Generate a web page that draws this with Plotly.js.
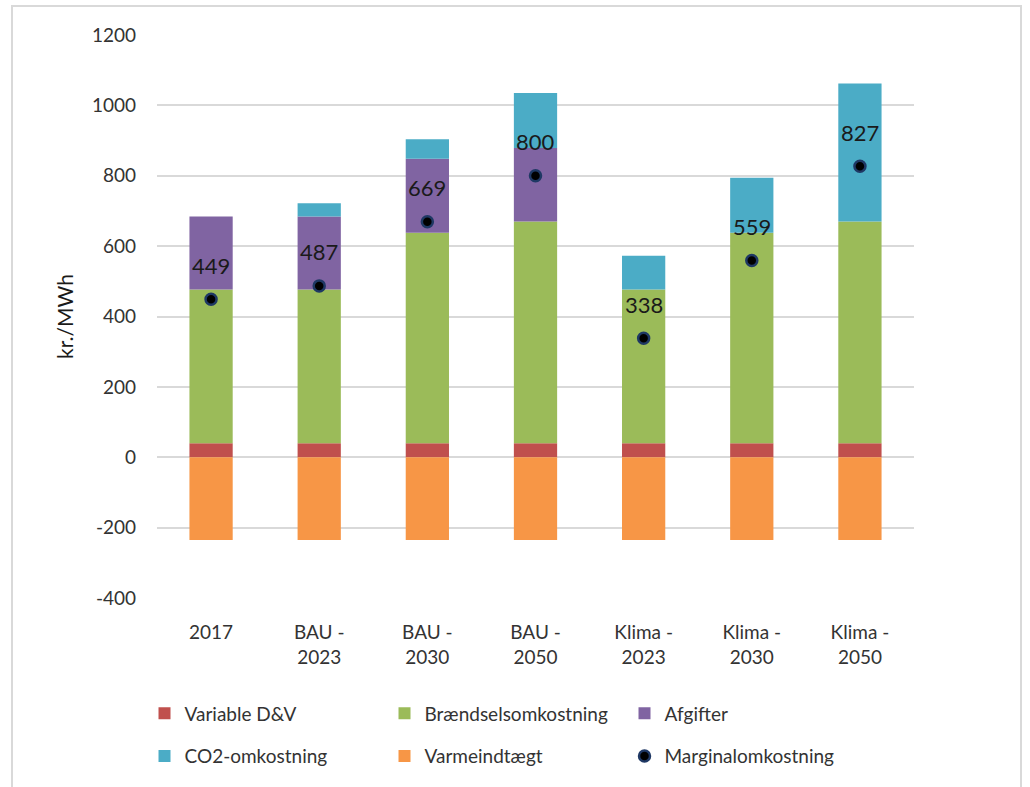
<!DOCTYPE html>
<html>
<head>
<meta charset="utf-8">
<script src="https://cdn.plot.ly/plotly-3.0.1.min.js"></script>
<style>
  html, body { margin: 0; padding: 0; background: #fff; overflow: hidden; }
  #chart { width: 1030px; height: 787px; position: absolute; left: 0; top: 0; }
  #frame { position: absolute; left: 11px; top: 5px; width: 1007px; height: 800px;
           border: 2px solid #d9d9d9; pointer-events: none; }
</style>
</head>
<body>
<div id="chart"></div>
<div id="frame"></div>
<script>
// ---- data ----
var categories = ['2017', 'BAU -<br>2023', 'BAU -<br>2030', 'BAU -<br>2050',
                  'Klima -<br>2023', 'Klima -<br>2030', 'Klima -<br>2050'];
var variableDV   = [40, 40, 40, 40, 40, 40, 40];
var braendsel    = [437, 437, 598, 630, 437, 598, 630];
var afgifter     = [207, 207, 210, 209, null, null, null];
var co2          = [null, 38, 56, 156, 96, 156, 392];
var varme        = [-235, -235, -235, -235, -235, -235, -235];
var marginal     = [449, 487, 669, 800, 338, 559, 827];
var yTicks       = [-400, -200, 0, 200, 400, 600, 800, 1000, 1200];

var xIdx = categories.map(function (c, i) { return i; });

var FONT = 'Lato, "Open Sans", sans-serif';
var TXT = '#333333';

function barTrace(name, vals, color, legend) {
  return {
    type: 'bar', name: name, x: xIdx, y: vals,
    marker: { color: color, line: { width: 0 } },
    legend: legend
  };
}

var traces = [
  barTrace('Variable D&V', variableDV, '#C0504D', 'legend'),
  barTrace('Brændselsomkostning', braendsel, '#9BBB59', 'legend'),
  barTrace('Afgifter', afgifter, '#8064A2', 'legend'),
  barTrace('CO2-omkostning', co2, '#4BACC6', 'legend2'),
  barTrace('Varmeindtægt', varme, '#F79646', 'legend2'),
  {
    type: 'scatter', mode: 'markers', name: 'Marginalomkostning',
    x: xIdx, y: marginal, legend: 'legend2',
    marker: { color: '#000000', size: 11, line: { color: '#1F3864', width: 2.5 } }
  }
];

var annotations = marginal.map(function (v, i) {
  return {
    x: xIdx[i], y: v, xref: 'x', yref: 'y', text: String(v),
    showarrow: false, yshift: 34,
    font: { family: FONT, size: 22, color: '#1a1a1a' }
  };
});

var legendCommon = {
  orientation: 'h', xanchor: 'left', yanchor: 'middle',
  entrywidth: 195, entrywidthmode: 'pixels',
  font: { family: FONT, size: 19, color: TXT },
  bgcolor: 'rgba(0,0,0,0)', borderwidth: 0, traceorder: 'normal',
  itemclick: false, itemdoubleclick: false
};

var layout = {
  width: 1030, height: 787,
  margin: { l: 157, r: 116, t: 35, b: 185, pad: 0 },
  paper_bgcolor: '#ffffff', plot_bgcolor: '#ffffff',
  barmode: 'relative', bargap: 0.6,
  font: { family: FONT, color: TXT },
  showlegend: true,
  legend: Object.assign({}, legendCommon, { x: -0.0165, y: -0.205 }),
  legend2: Object.assign({}, legendCommon, { x: -0.0165, y: -0.281 }),
  xaxis: {
    type: 'linear', range: [-0.5, categories.length - 0.5],
    tickvals: xIdx, ticktext: categories,
    showgrid: false, zeroline: false, showline: false,
    ticks: '', ticklabelstandoff: 21,
    tickfont: { family: FONT, size: 19, color: TXT }
  },
  yaxis: {
    range: [-400, 1200], tickvals: yTicks, ticktext: yTicks.map(String),
    showgrid: true, gridcolor: '#d9d9d9', gridwidth: 2,
    zeroline: false, showline: false, ticks: '', ticklabelstandoff: 20,
    tickfont: { family: FONT, size: 19, color: TXT },
    title: { text: 'kr./MWh', standoff: 12, font: { family: FONT, size: 21, color: '#1a1a1a' } }
  },
  annotations: annotations
};

Plotly.newPlot('chart', traces, layout, { displayModeBar: false, staticPlot: true });
</script>
</body>
</html>
